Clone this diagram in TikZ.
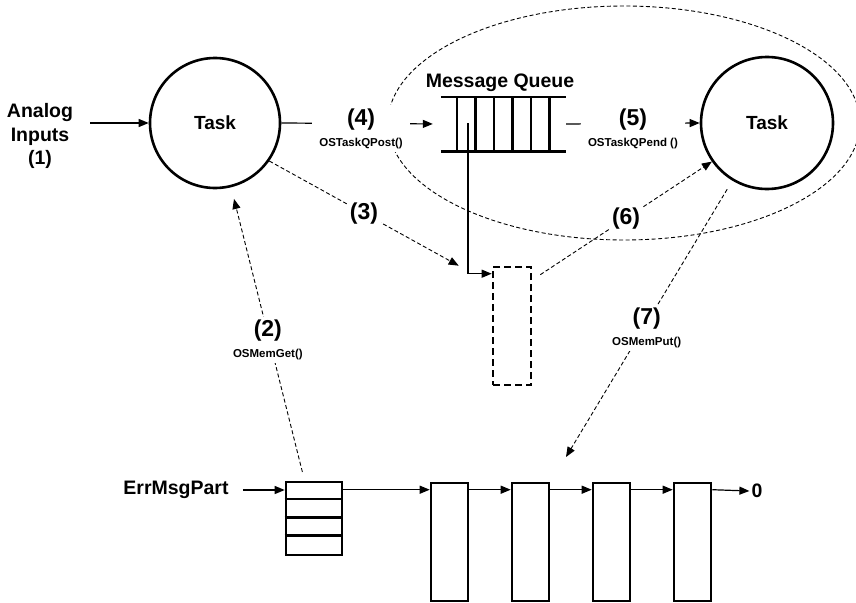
\documentclass[tikz,border=0pt]{standalone}
\usepackage{fontspec}
\setmainfont{Liberation Sans}
\usetikzlibrary{arrows.meta, positioning}

\newcommand{\callname}[1]{\\{\fontsize{11.5}{13}\selectfont #1}}

\begin{document}
\begin{tikzpicture}[
  x=1pt, y=-1pt,
  task/.style={draw, circle, line width=2.6pt, minimum size=130pt, inner sep=0pt, font=\bfseries\fontsize{19}{22}\selectfont},
  txt/.style={inner sep=2pt, align=center, font=\bfseries\fontsize{19.5}{23.5}\selectfont},
  steplab/.style={fill=white, inner sep=3pt, align=center, font=\bfseries\fontsize{23}{21}\selectfont},
  cell/.style={draw, line width=2.6pt, minimum width=37pt, minimum height=118pt, inner sep=0pt},
  thickline/.style={line width=2.6pt},
  arr/.style={-{Triangle[length=10pt, width=8pt]}, line width=1.2pt},
  darr/.style={-{Triangle[length=10pt, width=8pt]}, line width=0.9pt, dash pattern=on 4pt off 2.5pt}
]
\useasboundingbox (0,0) rectangle (856,602);

% the two tasks and the queue
\draw[line width=0.9pt, dash pattern=on 4pt off 2.5pt] (624,123) ellipse [x radius=236, y radius=117];
\node[txt] (inputs) at (40,136) {Analog\\Inputs\\(1)};
\node[task] (task1) at (215,123) {Task};
\node[task, minimum size=132pt] (task2) at (767,123) {Task};
\node[minimum width=125pt, minimum height=54pt, inner sep=0pt] (queue) at (503.5,124) {};
\node[txt] (qname) at (500,83) {Message Queue};
\draw[thickline] (queue.north west) -- (queue.north east) (queue.south west) -- (queue.south east);
\foreach \x in {457,475.5,494,512.5,531,549.5}
  \draw[thickline] (\x,97) -- (\x,151);
\node[draw, thickline, dash pattern=on 7pt off 4pt, minimum width=38pt, minimum height=118pt, inner sep=0pt] (msg) at (512,326) {};
\coordinate (tap) at (468,123);
\coordinate (hit) at (566,457);

% memory partition
\node[txt] (errname) at (176,490) {ErrMsgPart};
\node[draw, thickline, minimum width=56pt, minimum height=73pt, inner sep=0pt] (part) at (314,518.5) {};
\foreach \i in {1,2,3}
  \draw[thickline] ([yshift=-\i*18.25pt]part.north west) -- ([yshift=-\i*18.25pt]part.north east);
\foreach \i/\x in {1/449.5,2/530.5,3/611.5,4/692.5}
  \node[cell] (blk\i) at (\x,542) {};
\node[txt] (nil) at (757,491) {0};

% connectors
\draw[arr, shorten <=15pt] (inputs.east |- task1.west) -- (task1.west);
\draw[arr, shorten >=8pt] (task1.east) -- (queue.west)
  node[steplab, inner xsep=7pt, midway, yshift=-5pt] {(4)\callname{OSTaskQPost()}};
\draw[arr] (queue.east) -- (task2.west)
  node[steplab, inner xsep=7pt, midway, yshift=-5pt] {(5)\callname{OSTaskQPend ()}};
\draw[arr] (tap) |- ([yshift=-8pt]msg.north west);
\draw[darr] (task1.-35) -- ([xshift=-33pt]msg.north west) node[steplab, midway] {(3)};
\draw[darr] ([xshift=8pt, yshift=-9pt]msg.north east) -- (task2.215) node[steplab, midway] {(6)};
\draw[darr, shorten <=9pt, shorten >=12pt] (part) -- (task1)
  node[steplab, midway, yshift=-6pt] {(2)\callname{OSMemGet()}};
\draw[darr, shorten <=10pt] (task2.239) -- (hit)
  node[steplab, midway, xshift=-2.5pt, yshift=-9pt] {(7)\callname{OSMemPut()}};

\draw[arr, shorten <=12pt] (errname.east) -- (errname.east -| part.west);
\draw[arr] ([yshift=-9pt]part.north east) -- ([yshift=-8pt]blk1.north west);
\foreach \i/\j in {1/2,2/3,3/4}
  \draw[arr] ([yshift=-8pt]blk\i.north east) -- ([yshift=-8pt]blk\j.north west);
\draw[arr] ([yshift=-8pt]blk4.north east) -- (nil.west);

\end{tikzpicture}
\end{document}
